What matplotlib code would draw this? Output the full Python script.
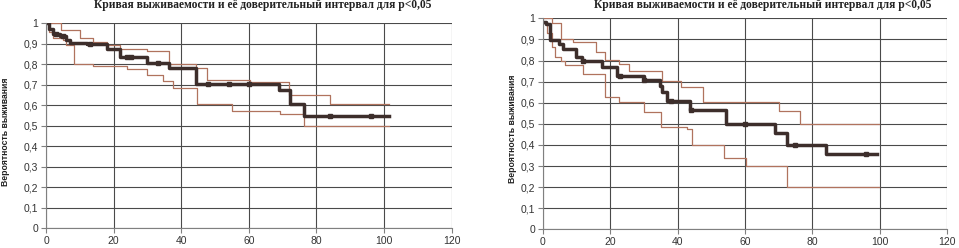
import numpy as np
import matplotlib.pyplot as plt
from matplotlib.ticker import FuncFormatter

# left chart: Kaplan-Meier curve and its confidence limits (step data)
left_t = [0, 1, 2, 4, 6, 7, 12, 18, 22, 30, 36.5, 44.4, 69, 72.2, 76.3, 101.5]
left_s = [1.0, 0.97, 0.95, 0.94, 0.92, 0.906, 0.90, 0.873, 0.837, 0.805, 0.784, 0.702, 0.675, 0.605, 0.55, 0.55]
left_up_t = [0, 4.4, 10, 14, 18, 22, 30, 36.5, 44.4, 47.7, 60.3, 72, 84, 101.5]
left_up_s = [1.0, 0.965, 0.93, 0.91, 0.895, 0.875, 0.865, 0.80, 0.78, 0.725, 0.712, 0.652, 0.605, 0.605]
left_lo_t = [0, 1, 2, 5, 6, 8.4, 14, 24, 30, 34.7, 37.7, 44.6, 54.9, 69.2, 76.3, 101.5]
left_lo_s = [1.0, 0.96, 0.93, 0.92, 0.895, 0.80, 0.79, 0.775, 0.748, 0.72, 0.683, 0.608, 0.572, 0.556, 0.499, 0.499]
left_cens = [3, 5, 13, 24, 25, 33, 48, 54, 60, 84, 96]

# right chart
right_t = [0, 1, 2, 4.9, 6, 10, 11.7, 17.6, 22, 30, 34.9, 35.4, 36.8, 43.7, 54.4, 69, 72.5, 84.2, 99.1]
right_s = [0.985, 0.972, 0.897, 0.88, 0.853, 0.815, 0.80, 0.771, 0.725, 0.708, 0.68, 0.652, 0.608, 0.566, 0.50, 0.455, 0.40, 0.355, 0.355]
right_up_t = [0, 2.7, 5.5, 9, 15.8, 18.6, 22.7, 25.6, 35.3, 41, 47.6, 70, 76.4, 99.8]
right_up_s = [1.0, 0.98, 0.90, 0.89, 0.842, 0.803, 0.782, 0.752, 0.703, 0.673, 0.605, 0.56, 0.50, 0.50]
right_lo_t = [0, 1.2, 2.7, 3.7, 5.5, 6.5, 11.8, 18.6, 22.7, 30, 35.2, 42.7, 44.3, 53.9, 60.3, 72.5, 99.8]
right_lo_s = [0.98, 0.929, 0.866, 0.818, 0.80, 0.78, 0.736, 0.628, 0.605, 0.558, 0.486, 0.478, 0.40, 0.34, 0.30, 0.20, 0.20]
right_cens = [12, 23, 30, 38, 44, 60, 75, 96]

title = "Кривая выживаемости и её доверительный интервал для p<0,05"
ylabel = "Вероятность выживания"

main_color = '#3d2e2b'
ci_color = '#b0735e'
grid_color = '#4a4a4a'


def step_at(t, s, x):
    idx = np.searchsorted(t, x, side='right') - 1
    return np.array(s)[idx]


def draw_panel(ax, t, s, up_t, up_s, lo_t, lo_s, cens):
    ax.set_xlim(0, 120)
    ax.set_ylim(0, 1)
    ax.set_xticks(np.arange(0, 121, 20))
    ax.set_yticks(np.arange(0, 1.01, 0.1))
    ax.yaxis.set_major_formatter(FuncFormatter(lambda v, p: ('%g' % round(v, 1)).replace('.', ',')))
    ax.grid(True, color=grid_color, linewidth=0.8)
    ax.set_axisbelow(True)
    for side in ['top', 'right']:
        ax.spines[side].set_visible(False)
    for side in ['left', 'bottom']:
        ax.spines[side].set_color('#808080')
        ax.spines[side].set_linewidth(0.8)
    ax.tick_params(length=3.5, width=0.8, color='#808080', labelsize=7.5,
                   labelcolor='#333333', pad=2)
    for lab in ax.get_xticklabels() + ax.get_yticklabels():
        lab.set_family('Liberation Sans')

    ax.plot(up_t, up_s, drawstyle='steps-post', color=ci_color, lw=0.9)
    ax.plot(lo_t, lo_s, drawstyle='steps-post', color=ci_color, lw=0.9)
    ax.plot(t, s, drawstyle='steps-post', color=main_color, lw=2.5)
    ax.plot(cens, step_at(t, s, cens), ls='none', marker='s', ms=2.5,
            color=main_color)


fig = plt.figure(figsize=(9.59, 2.48), dpi=100)
ax1 = fig.add_axes([0.048, 0.079, 0.423, 0.827])
ax2 = fig.add_axes([0.566, 0.075, 0.4215, 0.851])

draw_panel(ax1, left_t, left_s, left_up_t, left_up_s, left_lo_t, left_lo_s, left_cens)
draw_panel(ax2, right_t, right_s, right_up_t, right_up_s, right_lo_t, right_lo_s, right_cens)

fig.text(0.274, 0.98, title, ha='center', va='center', fontsize=8.3,
         family='Liberation Serif', weight='bold', color='#222222')
fig.text(0.795, 0.98, title, ha='center', va='center', fontsize=8.3,
         family='Liberation Serif', weight='bold', color='#222222')
fig.text(0.006, 0.468, ylabel, rotation=90, ha='center', va='center',
         fontsize=6.2, family='Liberation Sans', weight='bold', color='#222222')
fig.text(0.534, 0.48, ylabel, rotation=90, ha='center', va='center',
         fontsize=6.2, family='Liberation Sans', weight='bold', color='#222222')

fig.savefig('out.png', dpi=100)
